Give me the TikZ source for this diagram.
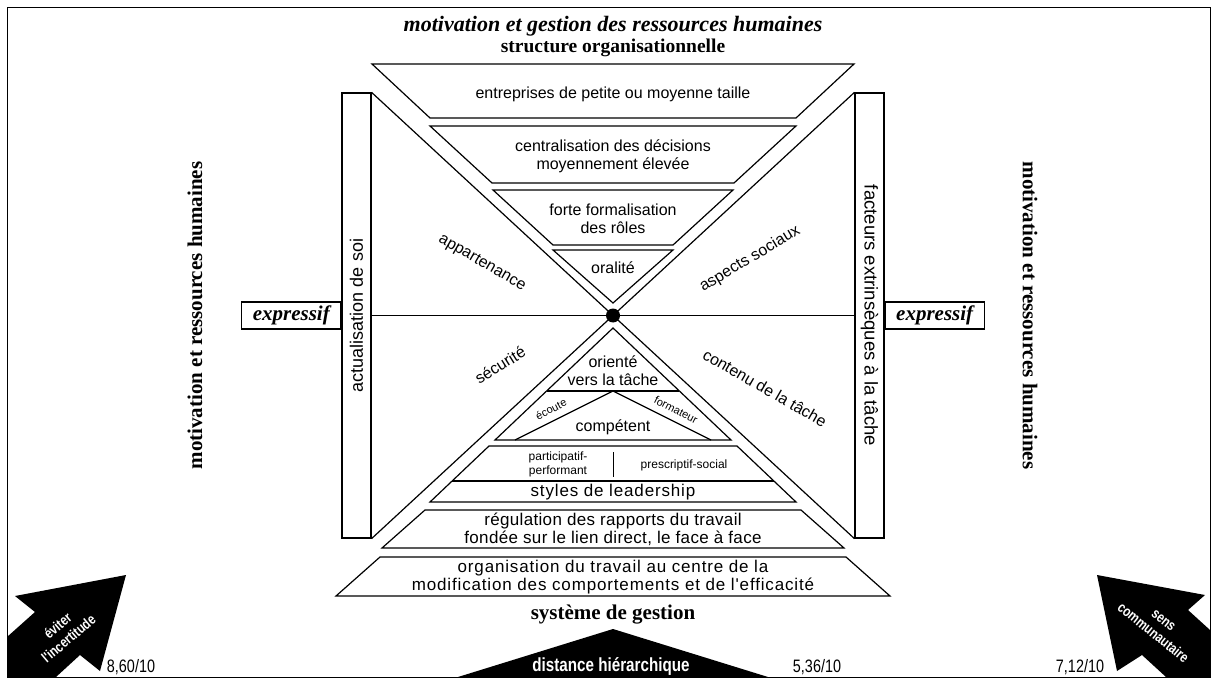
\documentclass[tikz,border=0pt]{standalone}
\usepackage{fontspec}
\setmainfont{Liberation Serif}
\newfontfamily\sansfont{Liberation Sans}
\newfontfamily\midfont[LetterSpace=2]{Liberation Sans}
\newfontfamily\widefont[LetterSpace=5]{Liberation Sans}
\newfontfamily\narrowfont[FakeStretch=0.8]{Liberation Sans}
\usetikzlibrary{positioning}

\tikzset{
  piece/.style={draw, line width=1.2pt, line join=miter},
  txt/.style={font=\sansfont\fontsize{16}{18}\selectfont, align=center, inner sep=0pt},
  smalltxt/.style={font=\sansfont\fontsize{12}{14}\selectfont, align=center, inner sep=0pt},
  tinytxt/.style={font=\sansfont\fontsize{11}{13}\selectfont, inner sep=0pt},
  heading/.style={font=\bfseries\fontsize{21}{24}\selectfont, inner sep=0pt},
  bar/.style={draw, line width=1.2pt, minimum width=29pt, minimum height=445pt, inner sep=0pt},
  expbox/.style={draw, line width=1.2pt, minimum width=99pt, minimum height=27pt, inner sep=0pt,
    font=\bfseries\itshape\fontsize{21}{24}\selectfont},
  score/.style={font=\narrowfont\fontsize{18}{20}\selectfont, inner sep=0pt},
  inarrow/.style={font=\narrowfont\bfseries\fontsize{14.5}{17}\selectfont, text=white, inner sep=0pt, align=center},
}

\begin{document}
\begin{tikzpicture}[x=1pt, y=-1pt]
	\useasboundingbox (0,0) rectangle (1213,679);
	\fill[white] (0,0) rectangle (1213,679);
	\draw[line width=0.8pt] (7,7) rectangle (1210,677);

	\node[heading, font=\bfseries\fontsize{22}{24}\selectfont] (title) at (613,26) {\itshape motivation et gestion des ressources humaines};
	\node[heading, font=\bfseries\fontsize{19.5}{24}\selectfont] (struct) at (613,48) {structure organisationnelle};

	\node[bar] (lbar) at (356.5,315.5) {};
	\node[bar] (rbar) at (869.5,315.5) {};
	\node[txt, rotate=90, font=\sansfont\fontsize{18}{20}\selectfont] (lbartxt) at (lbar) {actualisation de soi};
	\node[txt, rotate=-90, font=\sansfont\fontsize{18.5}{20}\selectfont] (rbartxt) at (rbar) {facteurs extrinsèques à la tâche};
	\node[expbox, left=0pt of lbar] (lexp) {expressif};
	\node[expbox, right=0pt of rbar] (rexp) {expressif};
	\node[heading, rotate=90] (lmot) at (195,315.5) {motivation et ressources humaines};
	\node[heading, rotate=-90] (rmot) at (1030,315.5) {motivation et ressources humaines};

	\draw[line width=1.2pt] (lbar.north east) -- (rbar.south west);
	\draw[line width=1.2pt] (lbar.south east) -- (rbar.north west);
	\draw[line width=1.2pt] (lbar.east) -- (rbar.west);
	\node[circle, fill, minimum size=14pt, inner sep=0pt] (mid) at (613,315.5) {};

	\draw[piece] (372,64) -- (854,64) -- (796,118) -- (430,118) -- cycle;
	\node[txt] (small) at (613,94) {entreprises de petite ou moyenne taille};
	\draw[piece] (430,126) -- (796,126) -- (734,183) -- (492,183) -- cycle;
	\node[txt] (central) at (613,156) {centralisation des décisions\\moyennement élevée};
	\draw[piece] (493,190) -- (733,190) -- (673,245) -- (553,245) -- cycle;
	\node[txt] (formal) at (613,219) {forte formalisation\\des rôles};
	\draw[piece] (553,250) -- (673,250) -- (613,303) -- cycle;
	\node[txt] (oral) at (613,268) {oralité};

	\node[txt, rotate=-30] (belong) at (482,263) {appartenance};
	\node[txt, rotate=31] (social) at (750,259) {aspects sociaux};
	\node[txt, rotate=32] (safety) at (500,365) {sécurité};
	\node[txt, rotate=-30] (content) at (765,388) {contenu de la tâche};

	\draw[piece] (613,328) -- (731,440) -- (495,440) -- cycle;
	\draw[piece] (547,391) -- (679,391);
	\draw[piece] (515,440) -- (613,391) -- (711,440);
	\node[txt] (task) at (613,371) {orienté\\vers la tâche};
	\node[txt] (skill) at (613,427) {compétent};
	\node[tinytxt, rotate=27] (listen) at (551,409) {écoute};
	\node[tinytxt, rotate=-27] (trainer) at (676,410) {formateur};

	\draw[piece] (489,446) -- (737,446) -- (796,502) -- (430,502) -- cycle;
	\draw[piece] (452,481) -- (774,481);
	\draw[line width=1pt] (613,452) -- (613,477);
	\node[smalltxt] (partic) at (558,464) {participatif-\\performant};
	\node[smalltxt] (prescr) at (684,465) {prescriptif-social};
	\node[txt, font=\widefont\fontsize{17}{20}\selectfont] (styles) at (613,492) {styles de leadership};

	\draw[piece] (425,510) -- (801,510) -- (844,548) -- (382,548) -- cycle;
	\node[txt, font=\midfont\fontsize{17}{18}\selectfont] (regul) at (613,529) {régulation des rapports du travail\\fondée sur le lien direct, le face à face};
	\draw[piece] (380,557) -- (846,557) -- (890,596) -- (336,596) -- cycle;
	\node[txt, font=\widefont\fontsize{17}{18}\selectfont] (organ) at (613,577) {organisation du travail au centre de la\\modification des comportements et de l'efficacité};
	\node[heading] (system) at (613,615) {système de gestion};

	\fill (126,575) -- (15,596) -- (35,612) -- (7,637) -- (7,677) -- (56,677) -- (80,655) -- (100,671) -- cycle;
	\node[inarrow, rotate=40] (avoid) at (63,632) {éviter\\l'incertitude};
	\node[score] (lscore) at (131,667) {8,60/10};

	\fill (458,677) -- (613,629) -- (768,677) -- cycle;
	\node[inarrow, font=\narrowfont\bfseries\fontsize{19}{19}\selectfont] (dist) at (611,666) {distance hiérarchique};
	\node[score] (mscore) at (817,667) {5,36/10};

	\fill (1097,575) -- (1205,595) -- (1188,610) -- (1210,630) -- (1210,677) -- (1166,677) -- (1142,655) -- (1117,671) -- cycle;
	\node[inarrow, rotate=-39] (commun) at (1158,627) {sens\\communautaire};
	\node[score] (rscore) at (1080,667) {7,12/10};
\end{tikzpicture}
\end{document}
